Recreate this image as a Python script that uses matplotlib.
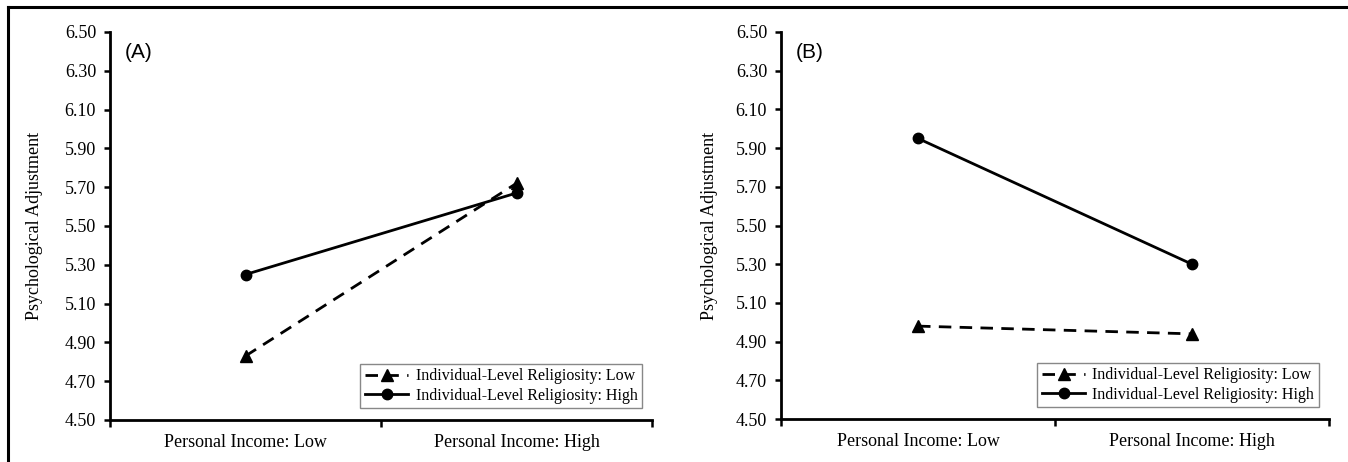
import matplotlib
matplotlib.use("Agg")
import matplotlib.pyplot as plt
from matplotlib.lines import Line2D

categories = ["Personal Income: Low", "Personal Income: High"]
panel_labels = ["(A)", "(B)"]
series_names = ["Individual-Level Religiosity: Low", "Individual-Level Religiosity: High"]
a_low_relig = [4.83, 5.72]
a_high_relig = [5.25, 5.67]
b_low_relig = [4.98, 4.94]
b_high_relig = [5.95, 5.30]
yticks = [4.50, 4.70, 4.90, 5.10, 5.30, 5.50, 5.70, 5.90, 6.10, 6.30, 6.50]

W, H = 1348, 462
fig = plt.figure(figsize=(W / 100, H / 100), dpi=100)
serif = ["Liberation Serif", "DejaVu Serif"]

def px_ax(l, r, t, b):
    return [l / W, (H - b) / H, (r - l) / W, (b - t) / H]

panels = [
    (px_ax(110, 652, 32, 420), a_low_relig, a_high_relig, panel_labels[0], 43),
    (px_ax(781, 1329, 32, 419), b_low_relig, b_high_relig, panel_labels[1], 718),
]

for rect, lowv, highv, plabel, ylab_x in panels:
    ax = fig.add_axes(rect)
    xs = [0.5, 1.5]
    ax.plot(xs, lowv, color="black", lw=2.0, ls=(0, (4.5, 3.0)), marker="^",
            markersize=8, label=series_names[0])
    ax.plot(xs, highv, color="black", lw=2.0, ls="-", marker="o",
            markersize=7.5, label=series_names[1])
    ax.set_xlim(0, 2)
    ax.set_ylim(4.5, 6.5)
    ax.set_yticks(yticks)
    ax.set_yticklabels([f"{v:.2f}" for v in yticks], fontfamily=serif, fontsize=13)
    ax.set_xticks([0, 1, 2])
    ax.set_xticklabels([])
    ax.set_xticks(xs, minor=True)
    ax.set_xticklabels(categories, minor=True, fontfamily=serif, fontsize=13)
    ax.tick_params(axis="x", which="minor", length=0, pad=10)
    ax.tick_params(axis="x", which="major", length=5, width=1.8, direction="out")
    ax.tick_params(axis="y", length=4, width=1.8, direction="out", pad=6)
    for s in ["top", "right"]:
        ax.spines[s].set_visible(False)
    for s in ["left", "bottom"]:
        ax.spines[s].set_linewidth(2.0)
    ax.set_ylabel("Psychological Adjustment", fontfamily=serif, fontsize=13)
    x0 = rect[0] * W
    ax.yaxis.set_label_coords((ylab_x - x0) / (rect[2] * W), 0.5)
    ax.text(0.027, 0.948, plabel, transform=ax.transAxes, fontfamily="Liberation Sans",
            fontsize=15, ha="left", va="center")
    leg = ax.legend(loc="lower right", bbox_to_anchor=(0.982, 0.03), frameon=True,
                    fancybox=False, edgecolor="#888888", framealpha=1,
                    prop={"family": serif, "size": 11.5}, handlelength=2.7,
                    handletextpad=0.45, borderpad=0.3, labelspacing=0.2,
                    borderaxespad=0)
    leg.get_frame().set_linewidth(1.0)

fig.add_artist(Line2D([8 / W, 1.0], [1 - 7 / H, 1 - 7 / H], color="black", lw=2.2,
                      transform=fig.transFigure))
fig.add_artist(Line2D([8 / W, 8 / W], [0.0, 1 - 7 / H], color="black", lw=2.2,
                      transform=fig.transFigure))

fig.savefig("out.png", dpi=100)
